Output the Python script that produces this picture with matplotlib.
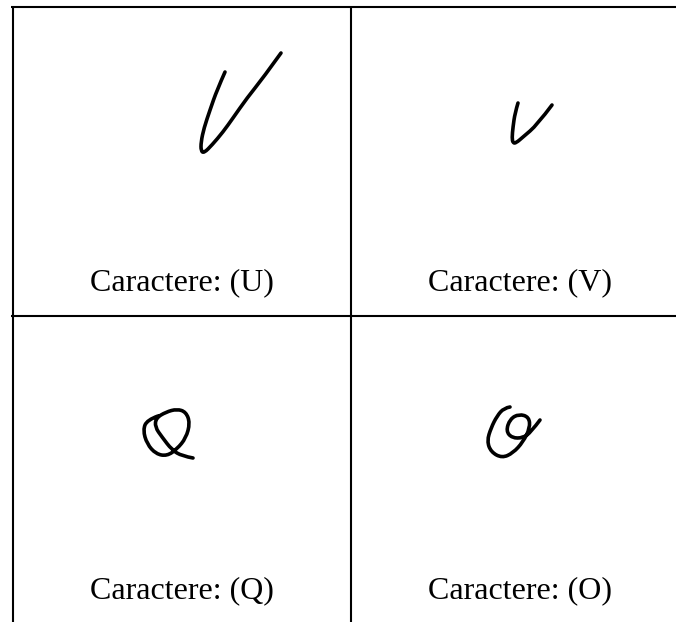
import matplotlib
matplotlib.use("Agg")
import matplotlib.pyplot as plt
from matplotlib.path import Path
from matplotlib.patches import PathPatch

labels = ["Caractere: (U)", "Caractere: (V)", "Caractere: (Q)", "Caractere: (O)"]
label_x = [90, 428, 90, 428]
label_y = [290, 290, 598, 598]

stroke_u_x = [225, 217, 210, 204, 201, 201, 204, 212, 223, 233, 247, 263, 281]
stroke_u_y = [72, 90, 110, 128, 142, 151, 153, 145, 132, 118, 98, 78, 53]
stroke_v_x = [518, 515, 513, 512, 513, 516, 523, 537, 552]
stroke_v_y = [103, 113, 127, 138, 143, 143, 137, 125, 105]
stroke_q_x = [193, 182, 172, 162, 155, 156, 166, 177, 186, 190, 186, 177, 167, 156, 147, 143, 147, 158]
stroke_q_y = [458, 456, 450, 437, 427, 418, 412, 409, 412, 423, 438, 449, 456, 454, 444, 430, 420, 416]
stroke_o_x = [510, 504, 497, 491, 487, 491, 502, 513, 523, 530, 529, 519, 510, 506, 512, 523, 531, 540]
stroke_o_y = [407, 408, 416, 428, 441, 452, 458, 453, 442, 428, 417, 414, 419, 431, 438, 438, 432, 420]

strokes = [(stroke_u_x, stroke_u_y), (stroke_v_x, stroke_v_y),
           (stroke_q_x, stroke_q_y), (stroke_o_x, stroke_o_y)]


def smooth_path(xs, ys):
    pts = list(zip(xs, ys))
    verts = [pts[0]]
    codes = [Path.MOVETO]
    for i in range(1, len(pts) - 1):
        end = pts[i + 1] if i == len(pts) - 2 else (
            (pts[i][0] + pts[i + 1][0]) / 2, (pts[i][1] + pts[i + 1][1]) / 2)
        verts += [pts[i], end]
        codes += [Path.CURVE3, Path.CURVE3]
    return Path(verts, codes)


fig = plt.figure(figsize=(6.76, 6.22), dpi=100)
ax = fig.add_axes([0, 0, 1, 1])
ax.set_xlim(0, 676)
ax.set_ylim(622, 0)
ax.axis("off")

# table rules
for y in [6.5, 316]:
    ax.plot([11, 676], [y, y], color="black", lw=1.5, solid_capstyle="butt")
for x in [13, 351]:
    ax.plot([x, x], [7, 622], color="black", lw=1.5, solid_capstyle="butt")

for xs, ys in strokes:
    ax.add_patch(PathPatch(smooth_path(xs, ys), fill=False, edgecolor="black", lw=2.6,
                           capstyle="round", joinstyle="round"))

for s, x, y in zip(labels, label_x, label_y):
    ax.text(x, y, s, family="Liberation Serif", fontsize=23, color="black", ha="left", va="baseline")

fig.savefig("out.png", dpi=100)
